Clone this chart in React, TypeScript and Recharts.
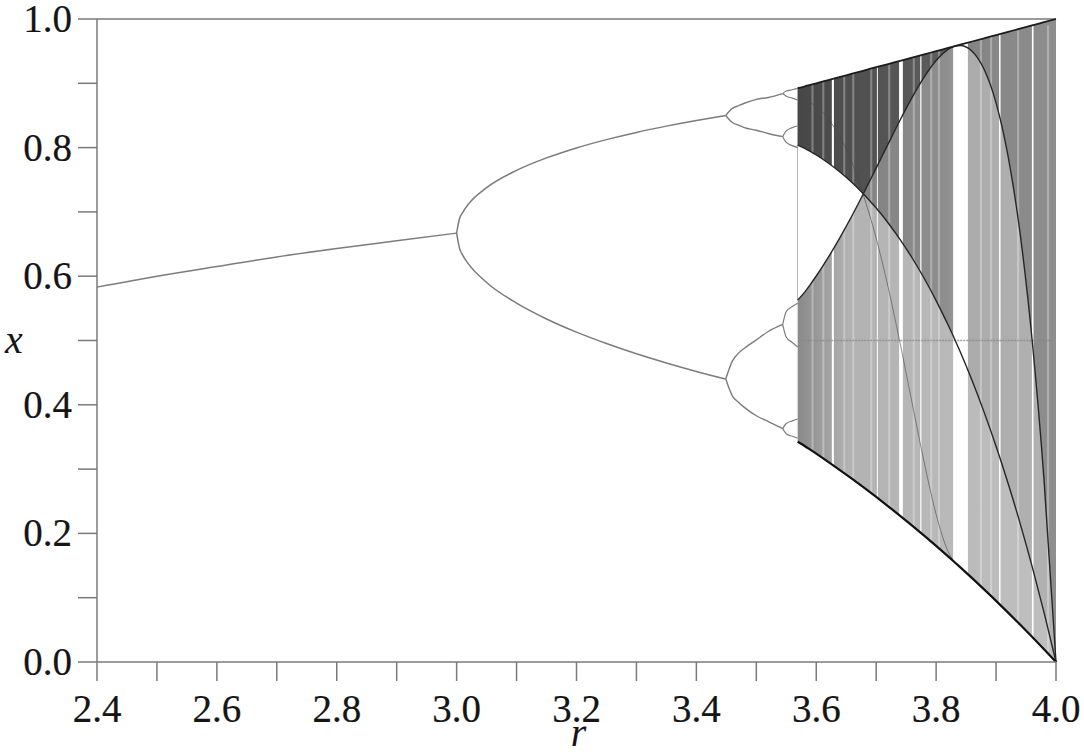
import React from 'react';
import { ComposedChart, Line, Area, XAxis, YAxis, ReferenceLine, Label } from 'recharts';

/* ——— values (logistic map, r vs x) ——— */
const fixedR = [2.4, 2.5, 2.6, 2.7, 2.8, 2.9, 3.0];
const fixedX = [0.583, 0.6, 0.615, 0.63, 0.643, 0.655, 0.667];

const p2R = [3.0, 3.005, 3.01, 3.02, 3.05, 3.1, 3.15, 3.2, 3.25, 3.3, 3.35, 3.4, 3.449];
const p2Upper = [0.667, 0.69, 0.699, 0.7125, 0.7377, 0.7646, 0.784, 0.7995, 0.8124, 0.8236, 0.8334, 0.8422, 0.85];
const p2Lower = [0.667, 0.6429, 0.6329, 0.6187, 0.5902, 0.5581, 0.5335, 0.513, 0.4953, 0.4794, 0.4651, 0.4519, 0.44];

const p4R = [3.449, 3.46, 3.47, 3.48, 3.5, 3.52, 3.544];
const p4Branches = [
  [0.85, 0.861, 0.865, 0.869, 0.875, 0.878, 0.884],
  [0.85, 0.839, 0.835, 0.831, 0.827, 0.822, 0.817],
  [0.44, 0.468, 0.48, 0.488, 0.501, 0.514, 0.525],
  [0.44, 0.414, 0.404, 0.396, 0.383, 0.374, 0.363],
];

const p8R = [3.544, 3.55, 3.56, 3.569];
const p8Branches = [
  [0.884, 0.888, 0.89, 0.892],
  [0.884, 0.88, 0.877, 0.874],
  [0.817, 0.826, 0.831, 0.834],
  [0.817, 0.808, 0.803, 0.8],
  [0.525, 0.545, 0.553, 0.558],
  [0.525, 0.505, 0.497, 0.49],
  [0.363, 0.371, 0.375, 0.378],
  [0.363, 0.355, 0.351, 0.348],
];

// chaotic region: outer envelopes and the dark inner curves
const chaosR = [3.569, 3.58, 3.59, 3.6, 3.62, 3.64, 3.66, 3.678, 3.7, 3.72, 3.74, 3.76, 3.78, 3.8, 3.82, 3.83, 3.84, 3.86, 3.88, 3.9, 3.92, 3.94, 3.96, 3.98, 4.0];
const chaosTop = [0.8925, 0.895, 0.8975, 0.9, 0.905, 0.91, 0.915, 0.9195, 0.925, 0.93, 0.935, 0.94, 0.945, 0.95, 0.955, 0.9575, 0.96, 0.965, 0.97, 0.975, 0.98, 0.985, 0.99, 0.995, 1.0];
const chaosBottom = [0.3425, 0.3364, 0.3303, 0.324, 0.3112, 0.2981, 0.2847, 0.2722, 0.2567, 0.2422, 0.2273, 0.2121, 0.1965, 0.1805, 0.1642, 0.1559, 0.1475, 0.1304, 0.1129, 0.0951, 0.0768, 0.0582, 0.0392, 0.0198, 0.0];
const curveA = [0.8039, 0.7992, 0.7941, 0.7885, 0.776, 0.7616, 0.7453, 0.7287, 0.706, 0.6828, 0.6569, 0.6283, 0.5968, 0.5621, 0.524, 0.504, 0.4828, 0.4377, 0.3886, 0.3356, 0.2779, 0.216, 0.1491, 0.0772, 0.0];
const curveB = [0.5628, 0.5745, 0.587, 0.6003, 0.6292, 0.6609, 0.6948, 0.7271, 0.768, 0.8057, 0.8429, 0.8781, 0.9096, 0.9354, 0.9528, 0.9574, 0.9589, 0.95, 0.9218, 0.8696, 0.7866, 0.6672, 0.5024, 0.2836, 0.0];
const curveC = [0.8784, 0.8751, 0.8703, 0.8638, 0.8446, 0.8158, 0.7761, 0.728, 0.659, 0.5824, 0.4953, 0.4025, 0.3108, 0.2296, 0.1718, 0.1562, null, null, null, null, null, null, null, null, null];
const bandMergeR = 3.678;

// periodic windows (white stripes) and lighter streaks in the chaos
const windowStart = [3.626, 3.7012, 3.7382, 3.7735, 3.8284, 3.905, 3.9598];
const windowEnd = [3.6295, 3.7028, 3.7445, 3.7755, 3.853, 3.9075, 3.9625];
const windowSpan = [0.005, 0.99];
const streakR = [3.592, 3.61, 3.645, 3.66, 3.69, 3.72, 3.761, 3.79, 3.803, 3.873, 3.89, 3.935, 3.985];
const streakWidth = 0.0035;

const centreLine = { from: 3.57, to: 4.0, x: 0.5 };

const xTicks = [2.4, 2.5, 2.6, 2.7, 2.8, 2.9, 3.0, 3.1, 3.2, 3.3, 3.4, 3.5, 3.6, 3.7, 3.8, 3.9, 4.0];
const yTicks = [0, 0.1, 0.2, 0.3, 0.4, 0.5, 0.6, 0.7, 0.8, 0.9, 1.0];

const rows = (rs: number[], xs: number[]) => rs.map((r, i) => ({ r, x: xs[i] }));

const chaosRows = chaosR.map((r, i) => ({
  r, lo: chaosBottom[i], hi: chaosTop[i], a: curveA[i], b: curveB[i], c: curveC[i],
}));
const gapRows = chaosRows.filter(d => d.r <= bandMergeR);

const FONT = "'Liberation Serif', 'Times New Roman', serif";
const AXIS = '#7a7a7a';
const BRANCH = '#7c7c7c';
const INK = '#151515';

const XTick = (props: any) => {
  const { x, y, payload } = props;
  if (Math.round(payload.value * 10) % 2 !== 0) return null;
  return (
    <text x={x} y={y + 39} textAnchor="middle" fontFamily={FONT} fontSize={39}
      fill={INK} stroke={INK} strokeWidth={0.2}>
      {payload.value.toFixed(1)}
    </text>
  );
};

const YTick = (props: any) => {
  const { x, y, payload } = props;
  if (Math.round(payload.value * 10) % 2 !== 0) return null;
  return (
    <text x={x - 4} y={y + 13} textAnchor="end" fontFamily={FONT} fontSize={39}
      fill={INK} stroke={INK} strokeWidth={0.2}>
      {payload.value.toFixed(1)}
    </text>
  );
};

export default function App() {
  return (
    <div style={{ position: 'absolute', left: 0, top: 0, width: 1084, height: 753, background: '#fff' }}>
      <ComposedChart width={1084} height={753} margin={{ top: 19, right: 28, left: 0, bottom: 0 }}>
        <defs>
          <linearGradient id="darkGrad" x1="0" y1="0" x2="1" y2="0">
            <stop offset="0%" stopColor="#474747" />
            <stop offset="58%" stopColor="#5e5e5e" />
            <stop offset="66%" stopColor="#848484" />
            <stop offset="100%" stopColor="#8e8e8e" />
          </linearGradient>
          <linearGradient id="midGrad" x1="0" y1="0" x2="1" y2="0">
            <stop offset="0%" stopColor="#7a7a7a" />
            <stop offset="58%" stopColor="#8e8e8e" />
            <stop offset="66%" stopColor="#ababab" />
            <stop offset="100%" stopColor="#b2b2b2" />
          </linearGradient>
          <linearGradient id="baseGrad" x1="0" y1="0" x2="1" y2="0">
            <stop offset="0%" stopColor="#8a8a8a" />
            <stop offset="20%" stopColor="#b2b2b2" />
            <stop offset="100%" stopColor="#c0c0c0" />
          </linearGradient>
        </defs>

        <XAxis
          type="number"
          dataKey="r"
          domain={[2.4, 4.0]}
          ticks={xTicks}
          interval={0}
          height={91}
          tickSize={19}
          tickMargin={2}
          axisLine={{ stroke: AXIS, strokeWidth: 1.5 }}
          tickLine={{ stroke: AXIS, strokeWidth: 1.5 }}
          tick={<XTick />}
        >
          <Label
            content={({ viewBox }: any) => (
              <text x={viewBox.x + viewBox.width / 2 + 2} y={viewBox.y + 84} textAnchor="middle"
                fontFamily={FONT} fontStyle="italic" fontSize={40} fill={INK}>r</text>
            )}
          />
        </XAxis>
        <YAxis
          type="number"
          domain={[0, 1]}
          ticks={yTicks}
          interval={0}
          width={97}
          tickSize={19}
          tickMargin={2}
          axisLine={{ stroke: AXIS, strokeWidth: 1.5 }}
          tickLine={{ stroke: AXIS, strokeWidth: 1.5 }}
          tick={<YTick />}
        >
          <Label
            content={({ viewBox }: any) => (
              <text x={14} y={viewBox.y + 334} textAnchor="middle"
                fontFamily={FONT} fontStyle="italic" fontSize={40} fill={INK}>x</text>
            )}
          />
        </YAxis>

        <ReferenceLine y={1} stroke={AXIS} strokeWidth={1.5} />

        {/* chaotic band shading */}
        <Area data={chaosRows} dataKey={(d: any) => [d.lo, d.hi]} type="monotone" stroke="none" fill="url(#baseGrad)" fillOpacity={1} isAnimationActive={false} />
        <Area data={chaosRows} dataKey={(d: any) => [d.a, d.b]} type="monotone" stroke="none" fill="url(#midGrad)" fillOpacity={1} isAnimationActive={false} />
        <Area data={chaosRows} dataKey={(d: any) => [d.b, d.hi]} type="monotone" stroke="none" fill="url(#darkGrad)" fillOpacity={1} isAnimationActive={false} />
        <Area data={gapRows} dataKey={(d: any) => [d.b, d.a]} type="monotone" stroke="none" fill="#ffffff" fillOpacity={1} isAnimationActive={false} />
        {streakR.map((s, i) => (
          <Area
            key={'s' + i}
            data={[{ r: s, w: windowSpan }, { r: s + streakWidth, w: windowSpan }]}
            dataKey="w"
            type="linear"
            stroke="none"
            fill="#ffffff"
            fillOpacity={0.3}
            isAnimationActive={false}
          />
        ))}
        {windowStart.map((s, i) => (
          <Area
            key={'w' + i}
            data={[{ r: s, w: windowSpan }, { r: windowEnd[i], w: windowSpan }]}
            dataKey="w"
            type="linear"
            stroke="none"
            fill="#ffffff"
            fillOpacity={1}
            isAnimationActive={false}
          />
        ))}

        <ReferenceLine
          segment={[{ x: centreLine.from, y: centreLine.x }, { x: centreLine.to, y: centreLine.x }]}
          stroke="#8a8a8a"
          strokeWidth={1.5}
          strokeDasharray="2 1"
          strokeOpacity={0.8}
        />

        {/* stable branches */}
        <Line data={rows(fixedR, fixedX)} dataKey="x" type="monotone" stroke={BRANCH} strokeWidth={1.5} dot={false} isAnimationActive={false} />
        <Line data={rows(p2R, p2Upper)} dataKey="x" type="monotone" stroke={BRANCH} strokeWidth={1.5} dot={false} isAnimationActive={false} />
        <Line data={rows(p2R, p2Lower)} dataKey="x" type="monotone" stroke={BRANCH} strokeWidth={1.5} dot={false} isAnimationActive={false} />
        {p4Branches.map((b, i) => (
          <Line key={'p4' + i} data={rows(p4R, b)} dataKey="x" type="monotone" stroke={BRANCH} strokeWidth={1.4} dot={false} isAnimationActive={false} />
        ))}
        {p8Branches.map((b, i) => (
          <Line key={'p8' + i} data={rows(p8R, b)} dataKey="x" type="monotone" stroke={BRANCH} strokeWidth={1.2} dot={false} isAnimationActive={false} />
        ))}

        {/* chaotic region edges and inner curves */}
        <Line data={chaosRows} dataKey="c" type="monotone" stroke="#4a4a4a" strokeWidth={1} strokeOpacity={0.6} dot={false} isAnimationActive={false} />
        <Line data={chaosRows} dataKey="a" type="monotone" stroke="#262626" strokeWidth={1.4} dot={false} isAnimationActive={false} />
        <Line data={chaosRows} dataKey="b" type="monotone" stroke="#262626" strokeWidth={1.4} dot={false} isAnimationActive={false} />
        <Line data={chaosRows} dataKey="hi" type="monotone" stroke="#1c1c1c" strokeWidth={1.8} dot={false} isAnimationActive={false} />
        <Line data={chaosRows} dataKey="lo" type="monotone" stroke="#111111" strokeWidth={2.2} dot={false} isAnimationActive={false} />
      </ComposedChart>
    </div>
  );
}
